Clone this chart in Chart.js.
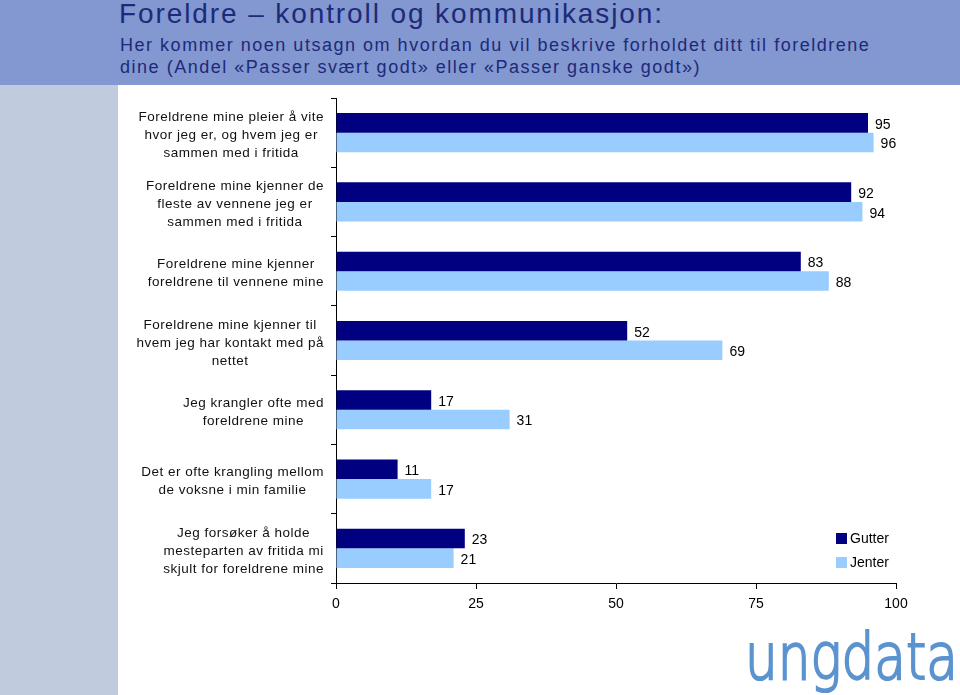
<!DOCTYPE html>
<html><head><meta charset="utf-8">
<script src="https://cdn.jsdelivr.net/npm/chart.js@4/dist/chart.umd.min.js"></script>
<style>
html,body{margin:0;padding:0;background:#fff;}
#page{position:relative;width:960px;height:695px;overflow:hidden;background:#fff;font-family:"Liberation Sans",Arial,sans-serif;}
#hdr{position:absolute;left:0;top:0;width:960px;height:85px;background:#8397d1;}
#strip{position:absolute;left:0;top:85px;width:118px;height:610px;background:#c0cbdd;}
#title{position:absolute;left:119px;top:-2px;font-size:28px;letter-spacing:1.9px;color:#1d2a78;white-space:nowrap;}
#sub{position:absolute;left:120px;top:34px;font-size:18px;letter-spacing:1.52px;line-height:22px;color:#1d2a78;white-space:nowrap;}
#logo{position:absolute;left:745px;top:617px;font-family:"DejaVu Sans";font-weight:200;font-size:64px;line-height:80px;color:#5b93cf;-webkit-text-stroke:2.2px #5b93cf;transform-origin:0 0;white-space:nowrap;}
canvas{position:absolute;left:0;top:0;}
</style></head>
<body><div id="page">
<div id="hdr"></div><div id="strip"></div>
<div id="title">Foreldre – kontroll og kommunikasjon:</div>
<div id="sub">Her kommer noen utsagn om hvordan du vil beskrive forholdet ditt til foreldrene<br>dine (Andel «Passer svært godt» eller «Passer ganske godt»)</div>
<div id="logo"><span id="logotxt">ungdata</span></div>
<canvas id="c" width="960" height="695"></canvas>
</div>
<script>
const categories = [
  ["Foreldrene mine pleier å vite","hvor jeg er, og hvem jeg er","sammen med i fritida"],
  ["Foreldrene mine kjenner de","fleste av vennene jeg er","sammen med i fritida"],
  ["Foreldrene mine kjenner","foreldrene til vennene mine"],
  ["Foreldrene mine kjenner til","hvem jeg har kontakt med på","nettet"],
  ["Jeg krangler ofte med","foreldrene mine"],
  ["Det er ofte krangling mellom","de voksne i min familie"],
  ["Jeg forsøker å holde","mesteparten av fritida mi","skjult for foreldrene mine"]
];
const gutter = [95, 92, 83, 52, 17, 11, 23];
const jenter = [96, 94, 88, 69, 31, 17, 21];
const xTicks = [0, 25, 50, 75, 100];

(function(){
  const el = document.getElementById('logo');
  const w = document.getElementById('logotxt').getBoundingClientRect().width;
  el.style.transform = 'scaleX(' + (213 / w) + ')';
})();

const FONT = '"Liberation Sans", Arial, sans-serif';

const labelPlugin = {
  id: 'custom',
  afterDraw(chart) {
    const ctx = chart.ctx;
    const y = chart.scales.y;
    ctx.save();
    ctx.fillStyle = '#111';
    ctx.font = '13.5px ' + FONT;
    ctx.letterSpacing = '0.5px';
    ctx.textBaseline = 'middle';
    ctx.textAlign = 'left';
    const right = chart.chartArea.left - 12;
    categories.forEach((lines, i) => {
      const cy = y.getPixelForValue(i);
      let w = 0;
      lines.forEach(l => { w = Math.max(w, ctx.measureText(l).width); });
      const cx = right - w / 2;
      const lh = 18;
      lines.forEach((l, k) => {
        const lw = ctx.measureText(l).width;
        ctx.fillText(l, cx - lw / 2, cy + (k - (lines.length - 1) / 2) * lh + 2.5);
      });
    });
    ctx.letterSpacing = '0px';
    // value labels
    ctx.font = '14px ' + FONT;
    ctx.textAlign = 'left';
    ctx.fillStyle = '#000';
    chart.data.datasets.forEach((ds, di) => {
      const meta = chart.getDatasetMeta(di);
      meta.data.forEach((bar, i) => {
        ctx.fillText(String(ds.data[i]), bar.x + 7, bar.y + 2);
      });
    });
    // legend
    const lx = chart.chartArea.left + 500, ly0 = chart.chartArea.bottom - 45;
    chart.data.datasets.forEach((ds, di) => {
      const ly = ly0 + di * 24;
      ctx.fillStyle = ds.backgroundColor;
      ctx.fillRect(lx, ly - 5, 11, 11);
      ctx.fillStyle = '#000';
      ctx.fillText(ds.label, lx + 14, ly + 1);
    });
    ctx.restore();
  }
};

new Chart(document.getElementById('c'), {
  type: 'bar',
  data: {
    labels: categories,
    datasets: [
      { label: 'Gutter', data: gutter, backgroundColor: '#000080', categoryPercentage: 0.565, barPercentage: 1.0 },
      { label: 'Jenter', data: jenter, backgroundColor: '#99ccff', categoryPercentage: 0.565, barPercentage: 1.0 }
    ]
  },
  options: {
    indexAxis: 'y',
    responsive: false,
    animation: false,
    events: [],
    layout: { padding: { left: 0, right: 64, top: 98, bottom: 0 } },
    plugins: { legend: { display: false }, tooltip: { enabled: false }, title: { display: false } },
    scales: {
      x: {
        min: 0, max: 100,
        afterBuildTicks(s) { s.ticks = xTicks.map(v => ({ value: v })); },
        afterFit(s) { s.height = 112; },
        grid: { display: true, drawOnChartArea: false, drawTicks: true, tickLength: 6, color: '#000', tickColor: '#000' },
        border: { display: true, color: '#000', width: 1 },
        ticks: { color: '#000', font: { family: FONT, size: 14 }, padding: 7, maxRotation: 0 }
      },
      y: {
        afterFit(s) { s.width = 336; },
        grid: { display: true, offset: true, drawOnChartArea: false, drawTicks: true, tickLength: 5, color: '#000', tickColor: '#000' },
        border: { display: true, color: '#000', width: 1 },
        ticks: { display: false }
      }
    }
  },
  plugins: [labelPlugin]
});
</script>
</body></html>
